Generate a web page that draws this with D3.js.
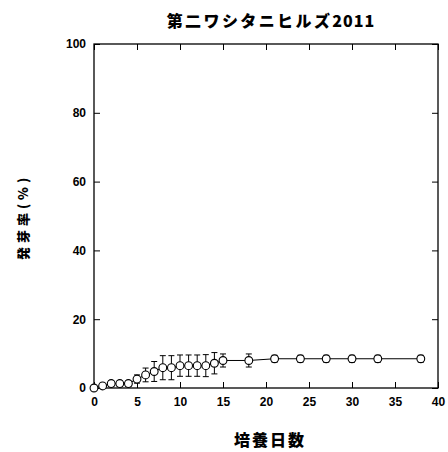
<!DOCTYPE html>
<html>
<head>
<meta charset="utf-8">
<script src="https://cdn.jsdelivr.net/npm/d3@7"></script>
<style>
  body { margin: 0; background: #fff; }
  text { font-family: "Liberation Sans", Arial, sans-serif; font-weight: bold; }
  .jp { font-family: "Noto Sans CJK JP", sans-serif; font-weight: 900; }
</style>
</head>
<body>
<div id="chart"></div>
<script>
// germination data
const days = [0, 1, 2, 3, 4, 5, 6, 7, 8, 9, 10, 11, 12, 13, 14, 15, 18, 21, 24, 27, 30, 33, 38];
const rate = [0, 0.6, 1.3, 1.3, 1.3, 2.6, 3.8, 4.8, 5.9, 5.9, 6.5, 6.5, 6.5, 6.5, 7.2, 8.0, 8.0, 8.5, 8.5, 8.5, 8.5, 8.5, 8.5];
const err = [0, 0.6, 0.8, 0.8, 0.8, 1.2, 2.0, 2.9, 3.5, 3.5, 3.1, 3.1, 3.1, 3.2, 3.1, 1.9, 1.9, 1.0, 1.0, 1.0, 1.0, 1.0, 1.0];
const xTicks = [0, 5, 10, 15, 20, 25, 30, 35, 40];
const yTicks = [0, 20, 40, 60, 80, 100];

const titleName = "第二ワシタニヒルズ";
const titleYear = "2011";
const xLabel = "培養日数";
const yLabel = "発芽率(%)";

const W = 448, H = 452;
const margin = {top: 44, right: 10, bottom: 64, left: 94};
const width = W - margin.left - margin.right;
const height = H - margin.top - margin.bottom;

const svg = d3.select("#chart").append("svg")
    .attr("width", W)
    .attr("height", H);

const g = svg.append("g")
    .attr("transform", `translate(${margin.left},${margin.top})`);

const x = d3.scaleLinear().domain([0, 40]).range([0, width]);
const y = d3.scaleLinear().domain([0, 100]).range([height, 0]);

// frame
g.append("rect")
    .attr("width", width).attr("height", height)
    .attr("fill", "none").attr("stroke", "#000").attr("stroke-width", 1.3);

// axes, ticks pointing inward
const axBottom = g.append("g").attr("transform", `translate(0,${height})`)
    .call(d3.axisBottom(x).tickValues(xTicks).tickSizeInner(-6).tickSizeOuter(0).tickPadding(9));
const axTop = g.append("g")
    .call(d3.axisTop(x).tickValues(xTicks).tickSizeInner(-6).tickSizeOuter(0).tickFormat(""));
const axLeft = g.append("g")
    .call(d3.axisLeft(y).tickValues(yTicks).tickSizeInner(-6).tickSizeOuter(0).tickPadding(8));
const axRight = g.append("g").attr("transform", `translate(${width},0)`)
    .call(d3.axisRight(y).tickValues(yTicks).tickSizeInner(-6).tickSizeOuter(0).tickFormat(""));

[axBottom, axTop, axLeft, axRight].forEach(a => {
    a.select(".domain").remove();
    a.selectAll("line").attr("stroke", "#000").attr("stroke-width", 1);
    a.selectAll("text").attr("font-size", 12).attr("font-weight", "bold")
        .attr("font-family", "'Liberation Sans', Arial, sans-serif").attr("fill", "#000");
});

// line
g.append("path")
    .datum(days.map((d, i) => [d, rate[i]]))
    .attr("fill", "none").attr("stroke", "#000").attr("stroke-width", 1)
    .attr("d", d3.line().x(d => x(d[0])).y(d => y(d[1])));

// error bars
const eb = g.append("g").selectAll("g").data(days).join("g");
eb.append("line")
    .attr("x1", d => x(d)).attr("x2", d => x(d))
    .attr("y1", (d, i) => y(rate[i] - err[i])).attr("y2", (d, i) => y(rate[i] + err[i]))
    .attr("stroke", "#000");
eb.append("line")
    .attr("x1", d => x(d) - 3).attr("x2", d => x(d) + 3)
    .attr("y1", (d, i) => y(rate[i] + err[i])).attr("y2", (d, i) => y(rate[i] + err[i]))
    .attr("stroke", "#000");
eb.append("line")
    .attr("x1", d => x(d) - 3).attr("x2", d => x(d) + 3)
    .attr("y1", (d, i) => y(rate[i] - err[i])).attr("y2", (d, i) => y(rate[i] - err[i]))
    .attr("stroke", "#000");

// markers
g.append("g").selectAll("circle").data(days).join("circle")
    .attr("cx", d => x(d)).attr("cy", (d, i) => y(rate[i]))
    .attr("r", 3.9)
    .attr("fill", "#fff").attr("stroke", "#000").attr("stroke-width", 1.1);

// labels
const t = svg.append("text").attr("class", "jp")
    .attr("x", 271).attr("y", 27)
    .attr("text-anchor", "middle").attr("font-size", 16);
t.append("tspan").attr("letter-spacing", 2.4).text(titleName);
t.append("tspan").attr("letter-spacing", 1).text(titleYear);

svg.append("text").attr("class", "jp")
    .attr("x", 270).attr("y", 446)
    .attr("text-anchor", "middle").attr("font-size", 16)
    .attr("letter-spacing", 2)
    .text(xLabel);

svg.append("text").attr("class", "jp")
    .attr("transform", "translate(28,217) rotate(-90)")
    .attr("text-anchor", "middle").attr("font-size", 13)
    .attr("letter-spacing", 4)
    .text(yLabel);
</script>
</body>
</html>
